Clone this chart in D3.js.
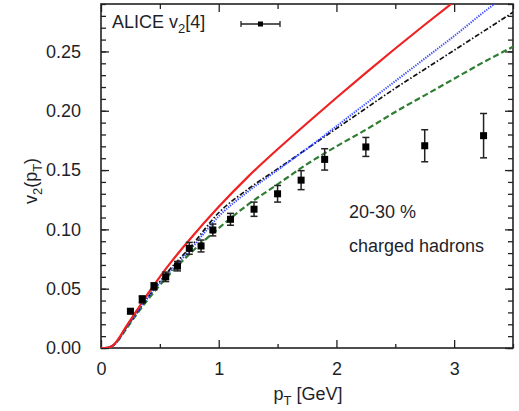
<!DOCTYPE html>
<html>
<head>
<meta charset="utf-8">
<script src="https://cdn.jsdelivr.net/npm/d3@7"></script>
<style>
	body { margin: 0; background: #fff; }
	text { font-family: "Liberation Sans", Arial, Helvetica, sans-serif; fill: #1f1f2a; }
</style>
</head>
<body>
<script>
// model curves, v2(pT)
var ptGrid = [0, 0.05, 0.1, 0.15, 0.2, 0.3, 0.4, 0.5, 0.6, 0.75, 1.0, 1.25, 1.5, 1.75, 2.0, 2.25, 2.5, 2.75, 3.0, 3.25, 3.5];
var redV2 = [0, 0.0002, 0.002, 0.008, 0.016, 0.031, 0.046, 0.060, 0.073, 0.091, 0.119, 0.1445, 0.1675, 0.1895, 0.211, 0.232, 0.2525, 0.2725, 0.292, 0.311, 0.330];
var blueV2 = [0, 0.0002, 0.002, 0.007, 0.015, 0.029, 0.043, 0.055, 0.066, 0.082, 0.111, 0.132, 0.150, 0.168, 0.187, 0.206, 0.225, 0.244, 0.263, 0.283, 0.302];
var blackV2 = [0, 0.0002, 0.002, 0.007, 0.015, 0.029, 0.043, 0.056, 0.068, 0.084, 0.114, 0.134, 0.151, 0.168, 0.185, 0.202, 0.219, 0.235, 0.251, 0.267, 0.283];
var greenV2 = [0, 0.0002, 0.002, 0.007, 0.014, 0.028, 0.041, 0.053, 0.064, 0.079, 0.101, 0.121, 0.138, 0.155, 0.170, 0.184, 0.199, 0.213, 0.227, 0.241, 0.254];

// ALICE v2[4] points
var dataPt = [0.25, 0.35, 0.45, 0.55, 0.65, 0.75, 0.85, 0.95, 1.1, 1.3, 1.5, 1.7, 1.9, 2.25, 2.75, 3.25];
var dataV2 = [0.031, 0.041, 0.052, 0.060, 0.069, 0.084, 0.086, 0.0995, 0.1085, 0.117, 0.130, 0.1415, 0.159, 0.1695, 0.1705, 0.179];
var dataErr = [0.002, 0.003, 0.003, 0.004, 0.004, 0.005, 0.005, 0.005, 0.005, 0.006, 0.007, 0.008, 0.009, 0.008, 0.0135, 0.0187];

var xTicks = [0, 1, 2, 3];
var xMinor = [0.5, 1.5, 2.5, 3.5];
var yTicks = [0, 0.05, 0.10, 0.15, 0.20, 0.25];

var svgWidth = 519,
	svgHeight = 411,
	plotL = 101, plotR = 513, plotT = 4, plotB = 348;

var svg = d3.select("body").append("svg")
	.attr("width", svgWidth)
	.attr("height", svgHeight);

var x = d3.scaleLinear().domain([0, 3.5]).range([plotL, plotR]);
var y = d3.scaleLinear().domain([0, 0.29]).range([plotB, plotT]);

svg.append("clipPath").attr("id", "plotClip")
	.append("rect")
	.attr("x", plotL).attr("y", plotT)
	.attr("width", plotR - plotL).attr("height", plotB - plotT);

// -- axes, ticks pointing inward on all four sides --
var yMinor = d3.range(0, 0.2901, 0.01);

function drawAxis(axis, pos, cls) {
	return svg.append("g")
		.attr("class", cls)
		.attr("transform", pos)
		.call(axis);
}

drawAxis(d3.axisBottom(x).tickValues(xTicks).tickSize(-8).tickPadding(14).tickFormat(d3.format("d")),
	"translate(0," + plotB + ")", "xb");
drawAxis(d3.axisBottom(x).tickValues(xMinor).tickSize(-4).tickFormat(""), "translate(0," + plotB + ")", "xbm");
drawAxis(d3.axisTop(x).tickValues(xTicks).tickSize(-8).tickFormat(""), "translate(0," + plotT + ")", "xt");
drawAxis(d3.axisTop(x).tickValues(xMinor).tickSize(-5).tickFormat(""), "translate(0," + plotT + ")", "xtm");

drawAxis(d3.axisLeft(y).tickValues(yTicks).tickSize(-8).tickPadding(20).tickFormat(d3.format(".2f")),
	"translate(" + plotL + ",0)", "yl");
drawAxis(d3.axisLeft(y).tickValues(yMinor).tickSize(-5).tickFormat(""), "translate(" + plotL + ",0)", "ylm");
drawAxis(d3.axisRight(y).tickValues(yTicks).tickSize(-8).tickFormat(""), "translate(" + plotR + ",0)", "yr");
drawAxis(d3.axisRight(y).tickValues(yMinor).tickSize(-5).tickFormat(""), "translate(" + plotR + ",0)", "yrm");

svg.selectAll(".domain").remove();
svg.selectAll(".tick line").attr("stroke", "#222").attr("stroke-width", 1.3);
svg.selectAll(".tick text").attr("font-size", 18).style("fill", "#1f1f2a");

svg.append("rect")
	.attr("x", plotL).attr("y", plotT)
	.attr("width", plotR - plotL).attr("height", plotB - plotT)
	.attr("fill", "none")
	.attr("stroke", "#222")
	.attr("stroke-width", 1.6);

// -- model curves --
var line = d3.line()
	.x(function(d) { return x(d[0]); })
	.y(function(d) { return y(d[1]); })
	.curve(d3.curveMonotoneX);

var curves = [
	{ v: greenV2, color: "#2e7d32", width: 2.2, dash: "6,3" },
	{ v: blackV2, color: "#111", width: 1.7, dash: "5,2,1.5,2" },
	{ v: blueV2, color: "#3a4cff", width: 2, dash: "1.3,1.2" },
	{ v: redV2, color: "#ee2222", width: 2.2, dash: null }
];

var curveG = svg.append("g").attr("clip-path", "url(#plotClip)");
curveG.selectAll("path")
	.data(curves)
	.enter().append("path")
	.attr("d", function(c) {
		return line(ptGrid.map(function(p, i) { return [p, c.v[i]]; }));
	})
	.attr("fill", "none")
	.attr("stroke", function(c) { return c.color; })
	.attr("stroke-width", function(c) { return c.width; })
	.attr("stroke-dasharray", function(c) { return c.dash; });

// -- data points with error bars --
var points = dataPt.map(function(p, i) {
	return { pt: p, v2: dataV2[i], err: dataErr[i] };
});

var pts = svg.append("g").selectAll("g")
	.data(points)
	.enter().append("g");

pts.append("line")
	.attr("x1", function(d) { return x(d.pt); })
	.attr("x2", function(d) { return x(d.pt); })
	.attr("y1", function(d) { return y(d.v2 - d.err); })
	.attr("y2", function(d) { return y(d.v2 + d.err); })
	.attr("stroke", "#222").attr("stroke-width", 1.5);

[-1, 1].forEach(function(s) {
	pts.append("line")
		.attr("x1", function(d) { return x(d.pt) - 3.5; })
		.attr("x2", function(d) { return x(d.pt) + 3.5; })
		.attr("y1", function(d) { return y(d.v2 + s * d.err); })
		.attr("y2", function(d) { return y(d.v2 + s * d.err); })
		.attr("stroke", "#222").attr("stroke-width", 1.5);
});

pts.append("rect")
	.attr("x", function(d) { return x(d.pt) - 3.5; })
	.attr("y", function(d) { return y(d.v2) - 3.5; })
	.attr("width", 7).attr("height", 7)
	.attr("fill", "#000");

// -- legend --
var legend = svg.append("text")
	.attr("x", 112).attr("y", 28)
	.attr("font-size", 18);
legend.append("tspan").text("ALICE v");
legend.append("tspan").attr("font-size", 13).attr("dy", 5).text("2");
legend.append("tspan").attr("dy", -5).text("[4]");

svg.append("line")
	.attr("x1", 241).attr("x2", 280).attr("y1", 24).attr("y2", 24)
	.attr("stroke", "#222").attr("stroke-width", 1.3);
[241, 280].forEach(function(cx) {
	svg.append("line")
		.attr("x1", cx).attr("x2", cx).attr("y1", 21).attr("y2", 27)
		.attr("stroke", "#222").attr("stroke-width", 1.3);
});
svg.append("rect")
	.attr("x", 258).attr("y", 21.5).attr("width", 5).attr("height", 5)
	.attr("fill", "#000");

// -- annotations --
svg.append("text").attr("x", 349).attr("y", 218).attr("font-size", 18).text("20-30 %");
svg.append("text").attr("x", 349).attr("y", 252).attr("font-size", 18).text("charged hadrons");

// -- axis titles --
var xTitle = svg.append("text")
	.attr("x", 308).attr("y", 400)
	.attr("text-anchor", "middle")
	.attr("font-size", 18);
xTitle.append("tspan").text("p");
xTitle.append("tspan").attr("font-size", 13).attr("dy", 5).text("T");
xTitle.append("tspan").attr("dy", -5).text(" [GeV]");

var yTitle = svg.append("text")
	.attr("transform", "translate(37,181) rotate(-90)")
	.attr("text-anchor", "middle")
	.attr("font-size", 18);
yTitle.append("tspan").text("v");
yTitle.append("tspan").attr("font-size", 13).attr("dy", 5).text("2");
yTitle.append("tspan").attr("dy", -5).text("(p");
yTitle.append("tspan").attr("font-size", 13).attr("dy", 5).text("T");
yTitle.append("tspan").attr("dy", -5).text(")");
</script>
</body>
</html>
